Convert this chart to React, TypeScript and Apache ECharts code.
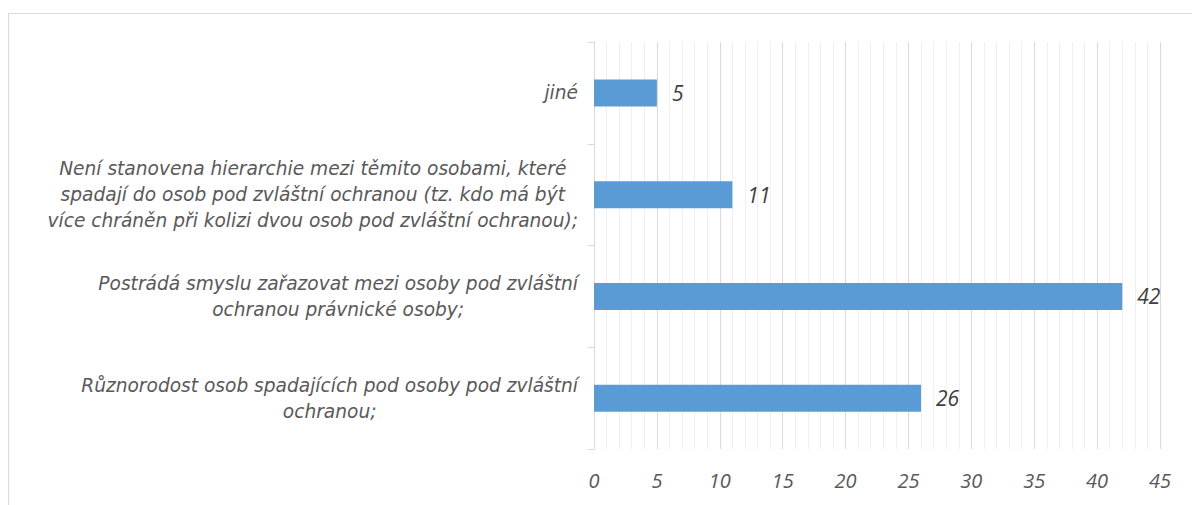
import React, { useEffect, useRef } from "react";
import * as echarts from "echarts";

const categories: string[] = [
  "Různorodost osob spadajících pod osoby pod zvláštní\nochranou;",
  "Postrádá smyslu zařazovat mezi osoby pod zvláštní\nochranou právnické osoby;",
  "Není stanovena hierarchie mezi těmito osobami, které\nspadají do osob pod zvláštní ochranou (tz. kdo má být\nvíce chráněn při kolizi dvou osob pod zvláštní ochranou);",
  "jiné",
];
const values: number[] = [26, 42, 11, 5];
const xMin = 0;
const xMax = 45;
const xInterval = 5;

const LABEL_FONT = "'DejaVu Sans', sans-serif";
const NUM_FONT = "'Open Sans', sans-serif";

export default function App() {
  const ref = useRef<HTMLDivElement>(null);
  useEffect(() => {
    if (!ref.current) return;
    const chart = echarts.init(ref.current, undefined, { renderer: "svg" });
    chart.setOption({
      animation: false,
      backgroundColor: "#ffffff",
      graphic: [
        {
          type: "rect",
          shape: { x: 8.5, y: 13.5, width: 1300, height: 700 },
          style: { fill: "none", stroke: "#d9d9d9", lineWidth: 1 },
          silent: true,
        },
      ],
      grid: { left: 594, right: 32, top: 42, bottom: 56, containLabel: false },
      xAxis: {
        type: "value",
        min: xMin,
        max: xMax,
        interval: xInterval,
        axisLine: { show: false },
        axisTick: { show: false },
        minorTick: { show: false, splitNumber: 5 },
        splitLine: { show: true, lineStyle: { color: "#d9d9d9", width: 1 } },
        minorSplitLine: { show: true, lineStyle: { color: "#efefef", width: 1 } },
        axisLabel: {
          margin: 21,
          fontFamily: NUM_FONT,
          fontStyle: "italic",
          fontSize: 20,
          color: "#595959",
        },
      },
      yAxis: {
        type: "category",
        data: categories,
        axisLine: { show: true, lineStyle: { color: "#d9d9d9", width: 1 } },
        axisTick: { show: true, length: 6, lineStyle: { color: "#d9d9d9" } },
        splitLine: { show: false },
        axisLabel: {
          margin: 16,
          align: "right",
          formatter: (v: string) =>
            v
              .split("\n")
              .map((l) => "{c|" + l + "}")
              .join("\n"),
          rich: {
            c: {
              align: "center",
              fontFamily: LABEL_FONT,
              fontStyle: "italic",
              fontSize: 18.6,
              lineHeight: 26,
              color: "#595959",
            },
          },
        },
      },
      series: [
        {
          type: "bar",
          data: values,
          barWidth: 27,
          itemStyle: { color: "#5b9bd5" },
          label: {
            show: true,
            position: "right",
            distance: 15,
            fontFamily: NUM_FONT,
            fontStyle: "italic",
            fontSize: 21,
            color: "#404040",
          },
        },
      ],
    });
    return () => chart.dispose();
  }, []);
  return (
    <div
      ref={ref}
      style={{ position: "fixed", left: 0, top: 0, width: 1192, height: 505 }}
    />
  );
}
